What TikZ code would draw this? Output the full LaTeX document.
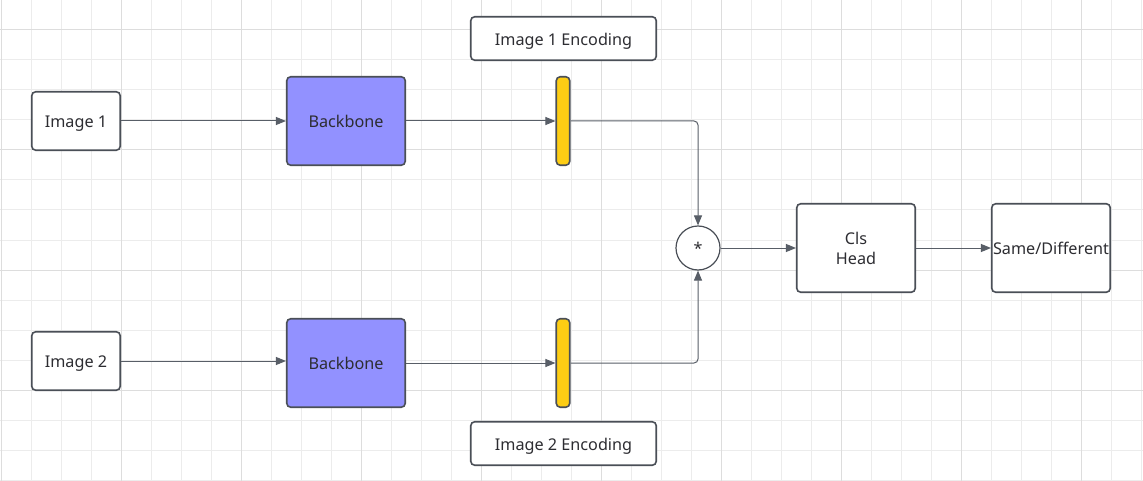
\documentclass[tikz,border=0pt]{standalone}
\usepackage{fontspec}
\setmainfont{Noto Sans}
\usetikzlibrary{arrows.meta}
\definecolor{myedge}{RGB}{74, 79, 87}
\definecolor{myline}{RGB}{88, 94, 103}
\definecolor{mypurple}{RGB}{146, 145, 255}
\definecolor{myyellow}{RGB}{253, 205, 20}
\definecolor{mytext}{RGB}{45, 45, 50}
\definecolor{gridminor}{RGB}{236, 236, 236}
\definecolor{gridmajor}{RGB}{221, 221, 221}
\tikzset{>={Triangle[length=10pt, width=8pt]}}
\tikzset{
  box/.style = {draw = myedge, line width = 1.6pt, rounded corners = 4pt, fill = white,
                inner sep = 0pt, text = mytext, font = \fontsize{16.2}{20}\selectfont,
                text height = 14.2pt, text depth = 0.6pt},
  encbar/.style = {draw = myedge, line width = 1.6pt, rounded corners = 4pt, fill = myyellow,
                minimum width = 13.5pt, minimum height = 88.5pt, inner sep = 0pt},
  opnode/.style = {draw = myedge, line width = 1.2pt, circle, fill = white, minimum size = 44pt,
                inner sep = 0pt, text = mytext, font = \fontsize{16.2}{20}\selectfont},
  conn/.style = {draw = myline, line width = 1pt}
}

\begin{document}
\begin{tikzpicture}[x = 1pt, y = -1pt]
\useasboundingbox (0, 0) rectangle (1143, 481);
\fill[white] (0, 0) rectangle (1143, 481);
\foreach \x in {1.7, 31.7, ..., 1142} \draw[gridminor, line width = 1pt] (\x, 0) -- (\x, 481);
\foreach \y in {0, 30, ..., 480} \draw[gridminor, line width = 1pt] (0, \y) -- (1143, \y);
\foreach \x in {1.7, 121.7, ..., 1142} \draw[gridmajor, line width = 1pt] (\x, 0) -- (\x, 481);
\foreach \y in {30, 150, ..., 480} \draw[gridmajor, line width = 1pt] (0, \y) -- (1143, \y);

\node[box, minimum width = 88.5pt, minimum height = 58.5pt] (img1) at (76, 121) {Image 1};
\node[box, fill = mypurple, minimum width = 118.5pt, minimum height = 88.5pt] (bb1) at (346, 121) {Backbone};
\node[encbar] (enc1) at (563, 121) {};
\node[box, minimum width = 185.5pt, minimum height = 43.5pt] (lab1) at (563.5, 38.5) {Image 1 Encoding};

\node[box, minimum width = 88.5pt, minimum height = 58.5pt] (img2) at (76, 361) {Image 2};
\node[box, fill = mypurple, minimum width = 118.5pt, minimum height = 88.5pt] (bb2) at (346, 363) {Backbone};
\node[encbar] (enc2) at (563, 363) {};
\node[box, minimum width = 185.5pt, minimum height = 43.5pt] (lab2) at (563.5, 443.5) {Image 2 Encoding};

\node[opnode] (mul) at (698, 248) {*};
\node[box, align = center, text height = {}, text depth = {}, minimum width = 118.5pt, minimum height = 88.5pt] (cls) at (856, 248) {Cls\\Head};
\node[box, minimum width = 118.5pt, minimum height = 88.5pt] (res) at (1051, 248) {Same/Different};

\draw[conn, ->] (img1) -- (bb1);
\draw[conn, ->] (bb1) -- (enc1);
\draw[conn, ->, rounded corners = 4pt] (enc1.east) -| (mul.north);
\draw[conn, ->] (img2) -- (img2 -| bb2.west);
\draw[conn, ->] (bb2) -- (enc2);
\draw[conn, ->, rounded corners = 4pt] (enc2.east) -| (mul.south);
\draw[conn, ->] (mul) -- (cls);
\draw[conn, ->] (cls) -- (res);
\end{tikzpicture}
\end{document}
